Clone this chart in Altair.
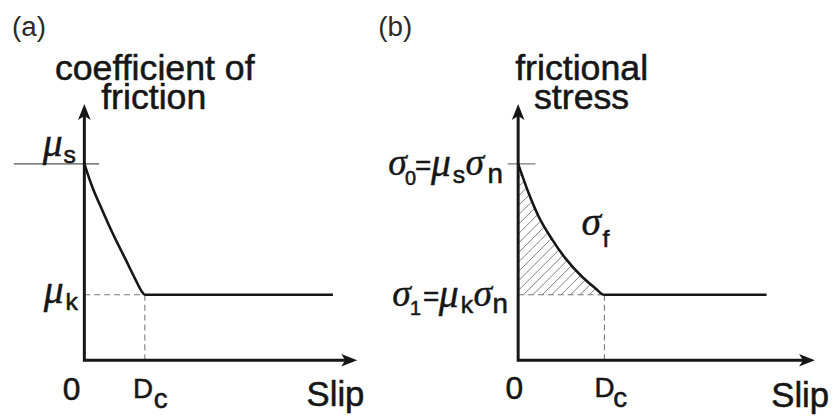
import altair as alt
import numpy as np
import pandas as pd

# ---------------- data (schematic values) ----------------
# panel (a): coefficient of friction vs slip
slip_a = [0.0, 0.13, 0.30, 0.46, 0.69, 0.85, 0.95, 1.0, 4.11]
mu_a = [0.60, 0.530, 0.457, 0.391, 0.305, 0.245, 0.210, 0.20, 0.20]
mu_s = 0.60
mu_k = 0.20
Dc = 1.0

# panel (b): frictional stress vs slip
slip_b = [0.0, 0.121, 0.236, 0.397, 0.546, 0.741, 0.891, 1.0, 2.88]
stress_b = [0.60, 0.511, 0.440, 0.368, 0.312, 0.255, 0.221, 0.20, 0.20]
sigma_0 = 0.60
sigma_1 = 0.20

# axis extents (data units)
slip_axis_a = 4.51
slip_axis_b = 3.44
y_axis_top = 0.783
mu_s_line = [-1.164, 0.246]      # thin reference line at mu_s in (a)
sigma_0_tick = [-0.121, 0.201]   # short tick at sigma_0 in (b)

# ---------------- layout / style ----------------
H = 403
PX_Y = 330.0
W_A, PX_A, ORIG_A = 372, 61.0, 77.0
W_B, PX_B, ORIG_B = 450, 87.0, 142.5
ORIG_Y = 353.5  # from top of panel

INK = "#161616"
GRAY = "#7a7a7a"
SANS = "Liberation Sans"
SERIF = "Liberation Serif"

ys = alt.Scale(domain=[-(H - ORIG_Y) / PX_Y, ORIG_Y / PX_Y], nice=False, zero=False)
xs_a = alt.Scale(domain=[-ORIG_A / PX_A, (W_A - ORIG_A) / PX_A], nice=False, zero=False)
xs_b = alt.Scale(domain=[-ORIG_B / PX_B, (W_B - ORIG_B) / PX_B], nice=False, zero=False)

UP = "M0,0L-0.8,2L0,1.5L0.8,2Z"
RIGHT = "M0,0L-2,-0.8L-1.5,0L-2,0.8Z"


def X(xs, f="x"):
    return alt.X(f"{f}:Q", scale=xs, axis=None)


def Y(f="y"):
    return alt.Y(f"{f}:Q", scale=ys, axis=None)


def txt(xs, xv, yv, s, dx, dy, size, serif=False, align="left", color=INK, bold=0.55):
    df = pd.DataFrame({"x": [xv], "y": [yv], "t": [s]})
    kw = dict(align=align, baseline="alphabetic", dx=dx, dy=dy, fontSize=size,
              font=SERIF if serif else SANS,
              fontStyle="italic" if serif else "normal", color=color)
    if bold > 0:
        kw.update(stroke=color, strokeWidth=bold)
    return alt.Chart(df).mark_text(**kw).encode(x=X(xs), y=Y(), text="t:N")


def segs(xs, rows, color, width, dash=None):
    df = pd.DataFrame(rows, columns=["x", "y", "x2", "y2"])
    kw = dict(color=color, strokeWidth=width)
    if dash:
        kw["strokeDash"] = dash
    return alt.Chart(df).mark_rule(**kw).encode(
        x=X(xs), y=Y(), x2="x2:Q", y2="y2:Q")


def axes(xs, px, x_tip):
    df = pd.DataFrame({"x": [0.0, 0.0, x_tip - 9 / px],
                       "y": [y_axis_top - 9 / PX_Y, 0.0, 0.0],
                       "o": [0, 1, 2]})
    line = alt.Chart(df).mark_line(color=INK, strokeWidth=3, strokeJoin="miter").encode(
        x=X(xs), y=Y(), order="o:Q")
    up = alt.Chart(pd.DataFrame({"x": [0.0], "y": [y_axis_top]})).mark_point(
        shape=UP, size=256, filled=True, color=INK, opacity=1, strokeWidth=0).encode(x=X(xs), y=Y())
    rt = alt.Chart(pd.DataFrame({"x": [x_tip], "y": [0.0]})).mark_point(
        shape=RIGHT, size=256, filled=True, color=INK, opacity=1, strokeWidth=0).encode(x=X(xs), y=Y())
    return [line, up, rt]


def curve(xs, xv, yv):
    df = pd.DataFrame({"x": xv, "y": yv})
    return alt.Chart(df).mark_line(color=INK, strokeWidth=2.6, interpolate="monotone").encode(
        x=X(xs), y=Y())


# ---------------- panel (a) ----------------
layers_a = [
    segs(xs_a, [[mu_s_line[0], mu_s, mu_s_line[1], mu_s]], "#555555", 1.1),
    segs(xs_a, [[0, mu_k, Dc, mu_k], [Dc, 0, Dc, mu_k]], GRAY, 1.1, [6, 4]),
    curve(xs_a, slip_a, mu_a),
] + axes(xs_a, PX_A, slip_axis_a) + [
    txt(xs_a, 0, y_axis_top, "(a)", -73, -69, 28, color="#2a2a2a", bold=0),
    txt(xs_a, 0, y_axis_top, "coefficient of", 71, -24, 36, align="center"),
    txt(xs_a, 0, y_axis_top, "friction", 70, 5, 36, align="center"),
    txt(xs_a, 0, mu_s, "μ", -42, -8, 40, serif=True, bold=0.4),
    txt(xs_a, 0, mu_s, "s", -21, -1, 25),
    txt(xs_a, 0, mu_k, "μ", -41, 8, 40, serif=True, bold=0.4),
    txt(xs_a, 0, mu_k, "k", -19, 15, 25),
    txt(xs_a, 0, 0, "0", -13, 40, 32, align="center"),
    txt(xs_a, Dc, 0, "D", -12, 38, 28),
    txt(xs_a, Dc, 0, "c", 9, 48, 28),
    txt(xs_a, slip_axis_a, 0, "Slip", -51, 46, 35),
]
panel_a = alt.layer(*layers_a).properties(width=W_A, height=H)

# ---------------- panel (b) ----------------
# hatching of the area between the weakening curve and sigma_1 (45 deg in pixels)
k = PX_B / PX_Y
dense_x = np.linspace(0.0, Dc, 4001)
dense_y = np.interp(dense_x, slip_b, stress_b)
step = 9.5 / PX_B
hatch = []
c = Dc - 0.6 * step
while True:
    if c >= 0:
        x0, y0 = c, sigma_1
    else:
        x0, y0 = 0.0, sigma_1 - c * k
    if y0 >= sigma_0:
        break
    line_y = sigma_1 + (dense_x - c) * k
    idx = np.where((dense_x >= x0) & (dense_y - line_y <= 0))[0]
    if len(idx):
        i = idx[0]
        if dense_x[i] - x0 > 1e-3:
            hatch.append([x0, y0, float(dense_x[i]), float(dense_y[i])])
    c -= step

layers_b = [
    segs(xs_b, hatch, "#808080", 1.0),
    segs(xs_b, [[sigma_0_tick[0], sigma_0, sigma_0_tick[1], sigma_0]], "#555555", 1.0),
    segs(xs_b, [[0, sigma_1, Dc, sigma_1], [Dc, 0, Dc, sigma_1]], GRAY, 1.1, [6, 4]),
    curve(xs_b, slip_b, stress_b),
] + axes(xs_b, PX_B, slip_axis_b) + [
    txt(xs_b, 0, y_axis_top, "(b)", -141, -69, 28, color="#2a2a2a", bold=0),
    txt(xs_b, 0, y_axis_top, "frictional", 64, -24, 36, align="center"),
    txt(xs_b, 0, y_axis_top, "stress", 64, 5, 36, align="center"),
    # sigma_0 = mu_s sigma_n
    txt(xs_b, 0, sigma_0, "σ", -131, 11, 38, serif=True, bold=0.4),
    txt(xs_b, 0, sigma_0, "0", -114, 21, 20),
    txt(xs_b, 0, sigma_0, "=", -104, 11, 28),
    txt(xs_b, 0, sigma_0, "μ", -88, 12, 40, serif=True, bold=0.4),
    txt(xs_b, 0, sigma_0, "s", -66, 19, 25),
    txt(xs_b, 0, sigma_0, "σ", -53, 11, 38, serif=True, bold=0.4),
    txt(xs_b, 0, sigma_0, "n", -31, 19, 28),
    # sigma_1 = mu_k sigma_n
    txt(xs_b, 0, sigma_1, "σ", -127, 11, 38, serif=True, bold=0.4),
    txt(xs_b, 0, sigma_1, "1", -109, 20, 20),
    txt(xs_b, 0, sigma_1, "=", -96, 11, 28),
    txt(xs_b, 0, sigma_1, "μ", -80, 12, 40, serif=True, bold=0.4),
    txt(xs_b, 0, sigma_1, "k", -58, 18, 25),
    txt(xs_b, 0, sigma_1, "σ", -45, 11, 38, serif=True, bold=0.4),
    txt(xs_b, 0, sigma_1, "n", -26, 18, 28),
    # sigma_f
    txt(xs_b, Dc, sigma_1, "σ", -23, -60, 40, serif=True, bold=0.4),
    txt(xs_b, Dc, sigma_1, "f", -2, -48, 25),
    txt(xs_b, 0, 0, "0", -4, 39, 32, align="center"),
    txt(xs_b, Dc, 0, "D", -10, 37, 28),
    txt(xs_b, Dc, 0, "c", 9, 47, 28),
    txt(xs_b, slip_axis_b, 0, "Slip", -44, 47, 35),
]
panel_b = alt.layer(*layers_b).properties(width=W_B, height=H)

chart = alt.hconcat(panel_a, panel_b, spacing=0, bounds="flush").properties(
    padding=0, background="white"
).configure_view(stroke=None)

chart.save("out.html", embed_options={"renderer": "svg", "actions": False})
